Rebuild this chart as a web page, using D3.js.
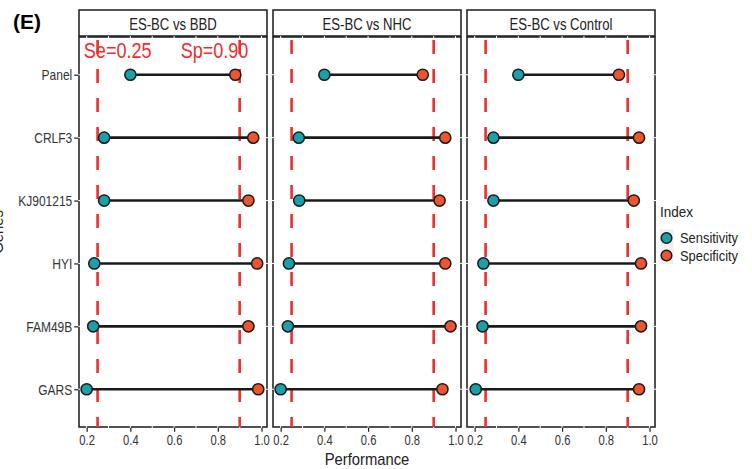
<!DOCTYPE html>
<html>
<head>
<meta charset="utf-8">
<script src="https://cdn.jsdelivr.net/npm/d3@7"></script>
<style>
  body { margin: 0; background: #fff; }
  svg { display: block; font-family: "Liberation Sans", Arial, sans-serif; }
</style>
</head>
<body>
<div id="vis"></div>
<script>
// data
const genes = ["Panel", "CRLF3", "KJ901215", "HYI", "FAM49B", "GARS"];
const comparisons = ["ES-BC vs BBD", "ES-BC vs NHC", "ES-BC vs Control"];
// one array per comparison, in the same order as genes
const sensitivity = [
  [0.40, 0.28, 0.28, 0.235, 0.23, 0.20],
  [0.40, 0.283, 0.285, 0.238, 0.233, 0.20],
  [0.40, 0.286, 0.286, 0.24, 0.236, 0.205]
];
const specificity = [
  [0.88, 0.962, 0.94, 0.98, 0.94, 0.985],
  [0.85, 0.953, 0.927, 0.953, 0.977, 0.94],
  [0.86, 0.952, 0.928, 0.961, 0.961, 0.952]
];
const cutoffs = [0.25, 0.90];
const cutoffLabels = ["Se=0.25", "Sp=0.90"];
const xTicks = [0.2, 0.4, 0.6, 0.8, 1.0];
const legendLabels = ["Sensitivity", "Specificity"];

const width = 752, height = 469;
const colTeal = "#1aa0a9", colOrange = "#ec5530", colRed = "#e8302f", ink = "#1a1a1a";

// panel layout
const panelLeft = [79, 273, 467];
const panelW = 188;
const plotTop = 37, plotBottom = 427, stripTop = 10;

const x = d3.scaleLinear().domain([0.165, 1.025]).range([0, panelW]);
const y = d3.scalePoint().domain(genes).range([plotTop, plotBottom]).padding(0.6);

// the figure uses a narrow sans, squeeze the glyphs horizontally
function condense(sel, f) {
  sel.each(function () {
    const w = this.getComputedTextLength();
    d3.select(this).attr("textLength", w * f).attr("lengthAdjust", "spacingAndGlyphs");
  });
}

const svg = d3.select("#vis").append("svg")
  .attr("width", width).attr("height", height);

svg.append("text")
  .attr("x", 13).attr("y", 29)
  .style("font-weight", "bold").style("font-size", "21px")
  .text("(E)");

comparisons.forEach((name, i) => {
  const g = svg.append("g").attr("transform", `translate(${panelLeft[i]},0)`);

  // strip
  g.append("rect")
    .attr("x", 0).attr("y", stripTop).attr("width", panelW).attr("height", plotTop - stripTop - 1)
    .attr("fill", "#fff").attr("stroke", ink).attr("stroke-width", 1.5);
  g.append("text")
    .attr("x", panelW / 2).attr("y", 30)
    .attr("text-anchor", "middle").style("font-size", "16px").attr("fill", "#222")
    .text(name)
    .call(condense, 0.82);

  // panel background with border, white grid drawn on top of it
  g.append("rect")
    .attr("x", 0).attr("y", plotTop).attr("width", panelW).attr("height", plotBottom - plotTop)
    .attr("fill", "#fff").attr("stroke", ink).attr("stroke-width", 1.5);
  g.selectAll(".gx").data(d3.range(0.2, 1.05, 0.1)).enter().append("line")
    .attr("x1", d => x(d)).attr("x2", d => x(d))
    .attr("y1", plotTop - 1).attr("y2", plotBottom + 1)
    .attr("stroke", "#fff").attr("stroke-width", 1);
  g.selectAll(".gy").data(genes).enter().append("line")
    .attr("x1", -1).attr("x2", panelW + 1)
    .attr("y1", d => y(d)).attr("y2", d => y(d))
    .attr("stroke", "#fff").attr("stroke-width", 1);

  // x axis
  const xAxis = g.append("g").attr("transform", `translate(0,${plotBottom + 0.75})`)
    .call(d3.axisBottom(x).tickValues(xTicks).tickSize(4).tickPadding(3).tickFormat(d3.format(".1f")));
  xAxis.select(".domain").remove();
  xAxis.selectAll("line").attr("stroke", ink).attr("stroke-width", 1.2);
  xAxis.selectAll("text").style("font-size", "14px").attr("fill", "#333")
    .attr("font-family", null).call(condense, 0.8);

  if (i === 0) {
    const yAxis = g.append("g").attr("transform", "translate(-0.75,0)")
      .call(d3.axisLeft(y).tickSize(4).tickPadding(2));
    yAxis.select(".domain").remove();
    yAxis.selectAll("line").attr("stroke", ink).attr("stroke-width", 1.2);
    yAxis.selectAll("text").style("font-size", "15px").attr("fill", "#333")
      .attr("font-family", null).call(condense, 0.8);

    g.selectAll(".cutlab").data(cutoffLabels).enter().append("text")
      .attr("x", (d, k) => x([0.342, 0.785][k]))
      .attr("y", y("Panel") - 17)
      .attr("text-anchor", "middle").attr("fill", colRed)
      .style("font-size", "22px")
      .text(d => d)
      .call(condense, 0.82);
  }

  // cutoff lines
  g.selectAll(".cut").data(cutoffs).enter().append("line")
    .attr("x1", d => x(d)).attr("x2", d => x(d))
    .attr("y1", plotTop + 3).attr("y2", plotBottom)
    .attr("stroke", colRed).attr("stroke-width", 2.6)
    .attr("stroke-dasharray", "14,15");

  const rows = genes.map((gname, k) => ({ gene: gname, se: sensitivity[i][k], sp: specificity[i][k] }));

  g.selectAll(".seg").data(rows).enter().append("line")
    .attr("x1", d => x(d.se)).attr("x2", d => x(d.sp))
    .attr("y1", d => y(d.gene)).attr("y2", d => y(d.gene))
    .attr("stroke", ink).attr("stroke-width", 2.6);

  g.selectAll(".se").data(rows).enter().append("circle")
    .attr("cx", d => x(d.se)).attr("cy", d => y(d.gene)).attr("r", 5.6)
    .attr("fill", colTeal).attr("stroke", ink).attr("stroke-width", 1.5);
  g.selectAll(".sp").data(rows).enter().append("circle")
    .attr("cx", d => x(d.sp)).attr("cy", d => y(d.gene)).attr("r", 5.6)
    .attr("fill", colOrange).attr("stroke", ink).attr("stroke-width", 1.5);
});

// axis titles
svg.append("text")
  .attr("x", (panelLeft[0] + panelLeft[2] + panelW) / 2).attr("y", 465)
  .attr("text-anchor", "middle").style("font-size", "17px").attr("fill", "#222")
  .text("Performance")
  .call(condense, 0.87);
svg.append("text")
  .attr("transform", `translate(3,${(plotTop + plotBottom) / 2}) rotate(-90)`)
  .attr("text-anchor", "middle").style("font-size", "17px").attr("fill", "#222")
  .text("Genes")
  .call(condense, 0.87);

// legend
const lg = svg.append("g").attr("transform", "translate(660,0)");
lg.append("text").attr("x", 0).attr("y", 217).style("font-size", "15px").attr("fill", "#222")
  .text("Index").call(condense, 0.9);
legendLabels.forEach((lab, k) => {
  const cy = 238 + k * 17.5;
  lg.append("rect").attr("x", -0.5).attr("y", cy - 8.5).attr("width", 14).attr("height", 17)
    .attr("fill", "#efefef");
  lg.append("circle").attr("cx", 6.5).attr("cy", cy).attr("r", 5.3)
    .attr("fill", k === 0 ? colTeal : colOrange).attr("stroke", ink).attr("stroke-width", 1.5);
  lg.append("text").attr("x", 20).attr("y", cy + 5).style("font-size", "15px").attr("fill", "#222")
    .text(lab).call(condense, 0.86);
});
</script>
</body>
</html>
